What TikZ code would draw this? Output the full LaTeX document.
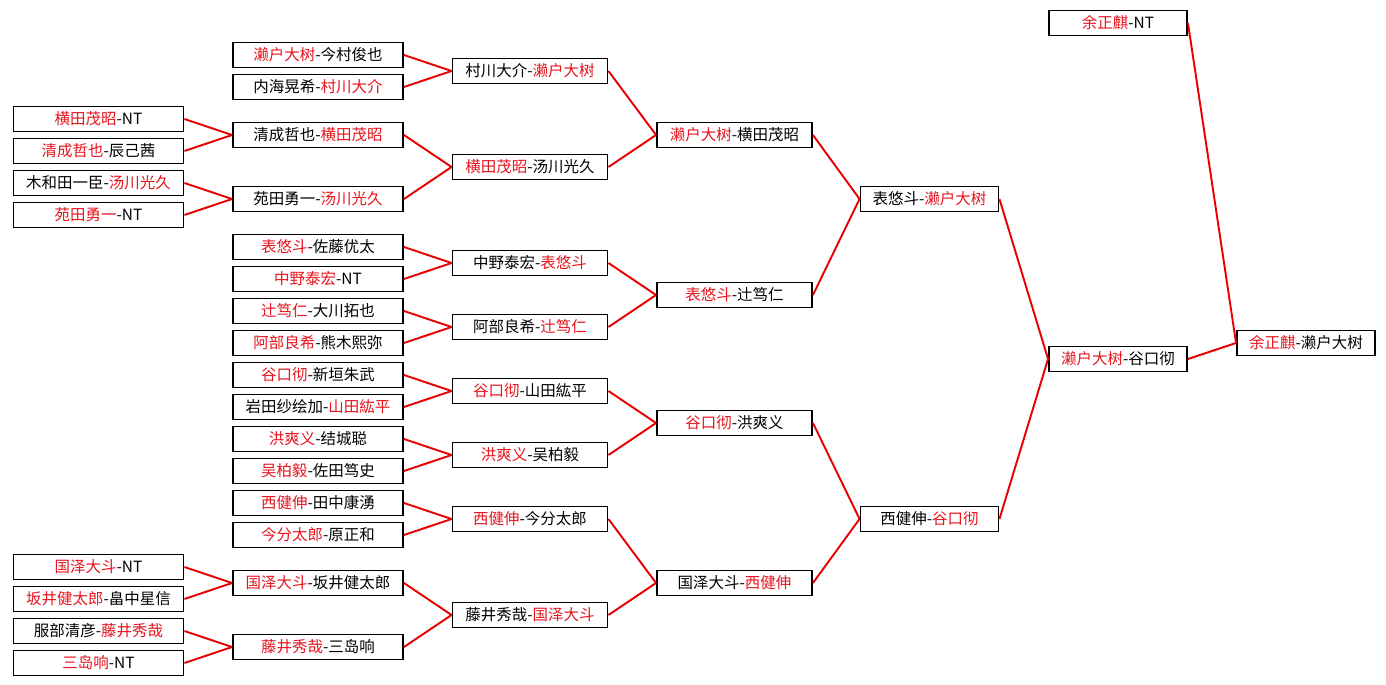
\documentclass[tikz,border=0pt]{standalone}
\usepackage{fontspec}
\setmainfont{Noto Sans CJK SC}
\usepackage{xcolor}
\definecolor{winred}{RGB}{232,20,30}
\definecolor{linered}{RGB}{235,0,0}
\newcommand{\winner}[1]{\textcolor{winred}{#1}}

\begin{document}
\begin{tikzpicture}[
    x=0.02cm, y=-0.02cm,
    box/.style={rectangle, draw=black, line width=1.1pt, fill=white, minimum height=0.5cm, inner sep=0pt, font=\fontsize{8.8}{10}\selectfont},
    wbox/.style={box, minimum width=3.4cm},
    mbox/.style={box, minimum width=3.1cm},
    nbox/.style={box, minimum width=2.76cm},
    link/.style={draw=linered, line width=1.1pt}
]
\useasboundingbox (0,0) rectangle (1386,685);

\node (a1) [wbox] at (98.5,119) {\winner{横田茂昭}-NT};
\node (a2) [wbox] at (98.5,151) {\winner{清成哲也}-辰己茜};
\node (a3) [wbox] at (98.5,183) {木和田一臣-\winner{汤川光久}};
\node (a4) [wbox] at (98.5,215) {\winner{苑田勇一}-NT};
\node (a5) [wbox] at (98.5,567) {\winner{国泽大斗}-NT};
\node (a6) [wbox] at (98.5,599) {\winner{坂井健太郎}-畠中星信};
\node (a7) [wbox] at (98.5,631) {服部清彦-\winner{藤井秀哉}};
\node (a8) [wbox] at (98.5,663) {\winner{三岛响}-NT};

\node (b1) [wbox] at (318,55) {\winner{濑户大树}-今村俊也};
\node (b2) [wbox] at (318,87) {内海晃希-\winner{村川大介}};
\node (b3) [wbox] at (318,135) {清成哲也-\winner{横田茂昭}};
\node (b4) [wbox] at (318,199) {苑田勇一-\winner{汤川光久}};
\node (b5) [wbox] at (318,247) {\winner{表悠斗}-佐藤优太};
\node (b6) [wbox] at (318,279) {\winner{中野泰宏}-NT};
\node (b7) [wbox] at (318,311) {\winner{辻笃仁}-大川拓也};
\node (b8) [wbox] at (318,343) {\winner{阿部良希}-熊木熙弥};
\node (b9) [wbox] at (318,375) {\winner{谷口彻}-新垣朱武};
\node (b10) [wbox] at (318,407) {岩田纱绘加-\winner{山田紘平}};
\node (b11) [wbox] at (318,439) {\winner{洪爽义}-结城聪};
\node (b12) [wbox] at (318,471) {\winner{吴柏毅}-佐田笃史};
\node (b13) [wbox] at (318,503) {\winner{西健伸}-田中康湧};
\node (b14) [wbox] at (318,535) {\winner{今分太郎}-原正和};
\node (b15) [wbox] at (318,583) {\winner{国泽大斗}-坂井健太郎};
\node (b16) [wbox] at (318,647) {\winner{藤井秀哉}-三岛响};

\node (c1) [mbox] at (530,71) {村川大介-\winner{濑户大树}};
\node (c2) [mbox] at (530,167) {\winner{横田茂昭}-汤川光久};
\node (c3) [mbox] at (530,263) {中野泰宏-\winner{表悠斗}};
\node (c4) [mbox] at (530,327) {阿部良希-\winner{辻笃仁}};
\node (c5) [mbox] at (530,391) {\winner{谷口彻}-山田紘平};
\node (c6) [mbox] at (530,455) {\winner{洪爽义}-吴柏毅};
\node (c7) [mbox] at (530,519) {\winner{西健伸}-今分太郎};
\node (c8) [mbox] at (530,615) {藤井秀哉-\winner{国泽大斗}};

\node (d1) [mbox] at (734.5,135) {\winner{濑户大树}-横田茂昭};
\node (d2) [mbox] at (734.5,295) {\winner{表悠斗}-辻笃仁};
\node (d3) [mbox] at (734.5,423) {\winner{谷口彻}-洪爽义};
\node (d4) [mbox] at (734.5,583) {国泽大斗-\winner{西健伸}};

\node (e1) [nbox] at (929.5,199) {表悠斗-\winner{濑户大树}};
\node (e2) [nbox] at (929.5,519) {西健伸-\winner{谷口彻}};

\node (f0) [nbox] at (1118,23) {\winner{余正麒}-NT};
\node (f1) [nbox] at (1118,359) {\winner{濑户大树}-谷口彻};

\node (g) [nbox] at (1306,343) {\winner{余正麒}-濑户大树};

\draw [link] (a1.east) -- (b3.west);
\draw [link] (a2.east) -- (b3.west);
\draw [link] (a3.east) -- (b4.west);
\draw [link] (a4.east) -- (b4.west);
\draw [link] (a5.east) -- (b15.west);
\draw [link] (a6.east) -- (b15.west);
\draw [link] (a7.east) -- (b16.west);
\draw [link] (a8.east) -- (b16.west);

\draw [link] (b1.east) -- (c1.west);
\draw [link] (b2.east) -- (c1.west);
\draw [link] (b3.east) -- (c2.west);
\draw [link] (b4.east) -- (c2.west);
\draw [link] (b5.east) -- (c3.west);
\draw [link] (b6.east) -- (c3.west);
\draw [link] (b7.east) -- (c4.west);
\draw [link] (b8.east) -- (c4.west);
\draw [link] (b9.east) -- (c5.west);
\draw [link] (b10.east) -- (c5.west);
\draw [link] (b11.east) -- (c6.west);
\draw [link] (b12.east) -- (c6.west);
\draw [link] (b13.east) -- (c7.west);
\draw [link] (b14.east) -- (c7.west);
\draw [link] (b15.east) -- (c8.west);
\draw [link] (b16.east) -- (c8.west);

\draw [link] (c1.east) -- (d1.west);
\draw [link] (c2.east) -- (d1.west);
\draw [link] (c3.east) -- (d2.west);
\draw [link] (c4.east) -- (d2.west);
\draw [link] (c5.east) -- (d3.west);
\draw [link] (c6.east) -- (d3.west);
\draw [link] (c7.east) -- (d4.west);
\draw [link] (c8.east) -- (d4.west);

\draw [link] (d1.east) -- (e1.west);
\draw [link] (d2.east) -- (e1.west);
\draw [link] (d3.east) -- (e2.west);
\draw [link] (d4.east) -- (e2.west);

\draw [link] (e1.east) -- (f1.west);
\draw [link] (e2.east) -- (f1.west);

\draw [link] (f0.east) -- (g.west);
\draw [link] (f1.east) -- (g.west);

\end{tikzpicture}
\end{document}
